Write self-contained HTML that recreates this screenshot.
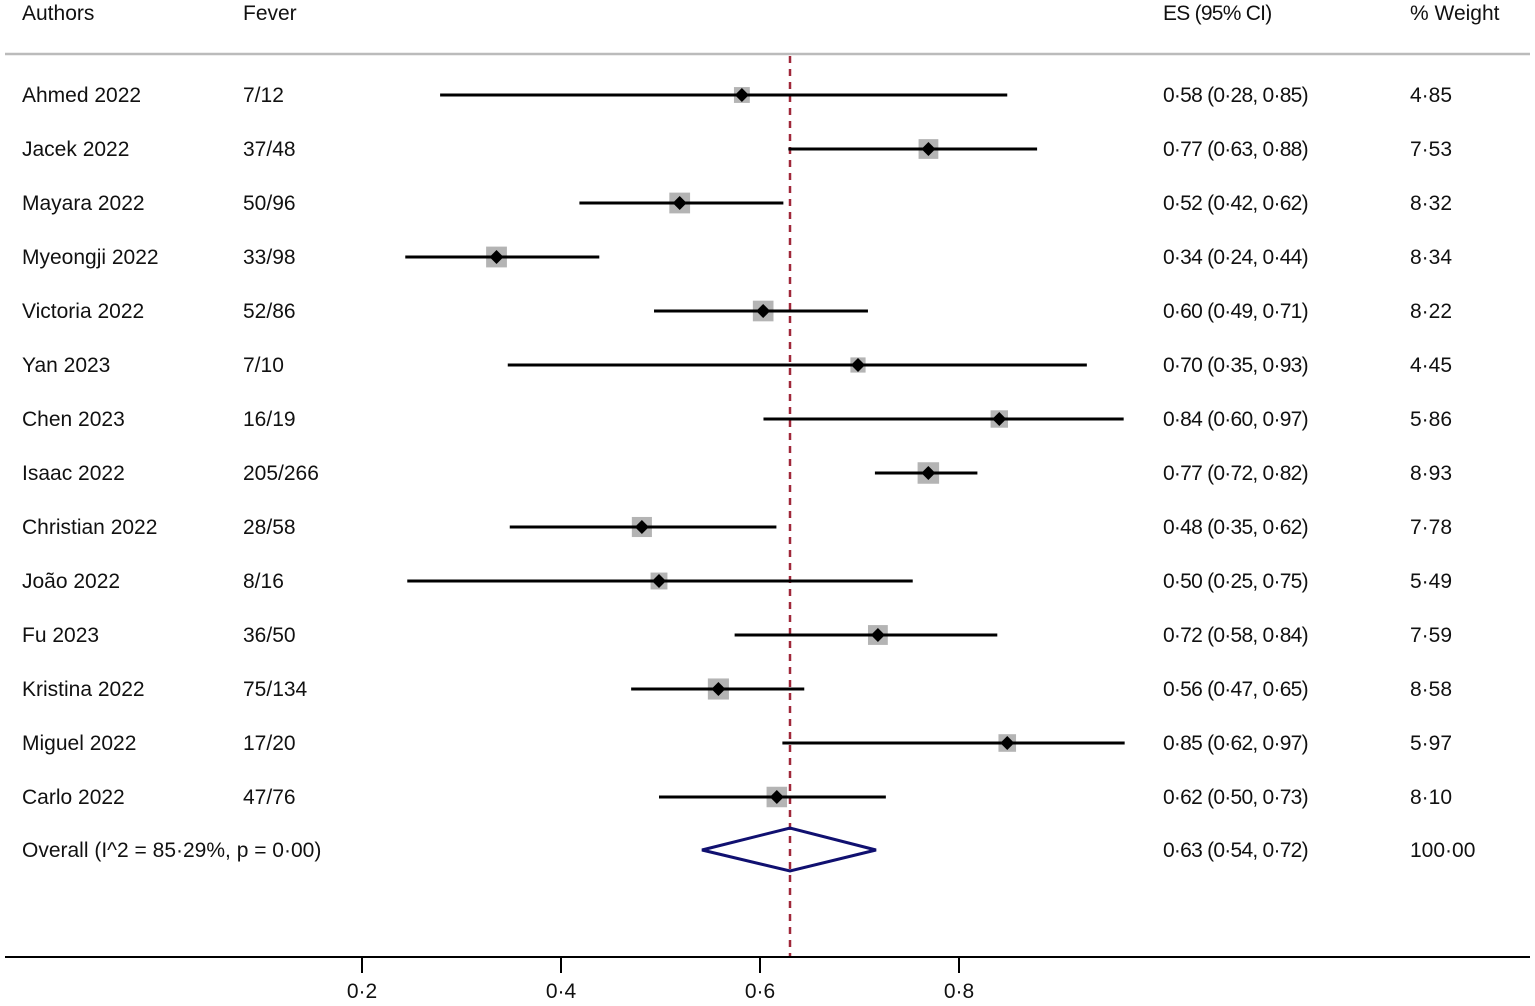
<!DOCTYPE html>
<html><head><meta charset="utf-8"><style>
body{margin:0;background:#fff}
svg text{font-family:"Liberation Sans",sans-serif;font-size:21px;fill:#111}
svg text.ci{letter-spacing:-0.75px}
</style></head><body>
<svg width="1535" height="1001" viewBox="0 0 1535 1001" xmlns="http://www.w3.org/2000/svg">
<text x="22" y="20">Authors</text>
<text x="243" y="20">Fever</text>
<text x="1163" y="20" class="ci">ES (95% CI)</text>
<text x="1410" y="20">% Weight</text>
<line x1="5" y1="54" x2="1530" y2="54" stroke="#bbb" stroke-width="2.5"/>
<line x1="790" y1="56" x2="790" y2="957" stroke="#a0283a" stroke-width="2.5" stroke-dasharray="7,6"/>
<g id="rows" stroke="#000" stroke-width="3"></g>
<polygon points="702,850 790,828 876,850 790,871" fill="none" stroke="#101070" stroke-width="3"/>
<line x1="5" y1="957" x2="1530" y2="957" stroke="#000" stroke-width="2"/>
<g stroke="#000" stroke-width="2">
<line x1="362" y1="957" x2="362" y2="973"/><line x1="561" y1="957" x2="561" y2="973"/>
<line x1="760" y1="957" x2="760" y2="973"/><line x1="959" y1="957" x2="959" y2="973"/>
</g>
<g text-anchor="middle"><text x="362" y="998">0·2</text><text x="561" y="998">0·4</text><text x="760" y="998">0·6</text><text x="959" y="998">0·8</text></g>
<text x="22" y="857">Overall  (I^2 = 85·29%, p = 0·00)</text>
<text x="1163" y="857" class="ci">0·63 (0·54, 0·72)</text>
<text x="1410" y="857">100·00</text>
<g id="labels"></g>
</svg>
<script>
var d=[["Ahmed 2022","7/12",.5833,.28,.85,"0·58 (0·28, 0·85)","4·85",4.85],
["Jacek 2022","37/48",.7708,.63,.88,"0·77 (0·63, 0·88)","7·53",7.53],
["Mayara 2022","50/96",.5208,.42,.625,"0·52 (0·42, 0·62)","8·32",8.32],
["Myeongji 2022","33/98",.3367,.245,.44,"0·34 (0·24, 0·44)","8·34",8.34],
["Victoria 2022","52/86",.6047,.495,.71,"0·60 (0·49, 0·71)","8·22",8.22],
["Yan 2023","7/10",.7,.348,.93,"0·70 (0·35, 0·93)","4·45",4.45],
["Chen 2023","16/19",.842,.605,.967,"0·84 (0·60, 0·97)","5·86",5.86],
["Isaac 2022","205/266",.7707,.717,.82,"0·77 (0·72, 0·82)","8·93",8.93],
["Christian 2022","28/58",.4828,.35,.618,"0·48 (0·35, 0·62)","7·78",7.78],
["João 2022","8/16",.5,.247,.755,"0·50 (0·25, 0·75)","5·49",5.49],
["Fu 2023","36/50",.72,.576,.84,"0·72 (0·58, 0·84)","7·59",7.59],
["Kristina 2022","75/134",.5597,.472,.646,"0·56 (0·47, 0·65)","8·58",8.58],
["Miguel 2022","17/20",.85,.624,.968,"0·85 (0·62, 0·97)","5·97",5.97],
["Carlo 2022","47/76",.6184,.50,.728,"0·62 (0·50, 0·73)","8·10",8.10]];
var X=v=>161.5+995*v,ns="http://www.w3.org/2000/svg",R=document.getElementById("rows"),L=document.getElementById("labels");
function el(t,a,p){var e=document.createElementNS(ns,t);for(var k in a)e.setAttribute(k,a[k]);p.appendChild(e);return e}
d.forEach((r,i)=>{var y=95+54*i,s=7.2*Math.sqrt(r[7]),x=X(r[2]);
el("rect",{x:x-s/2,y:y-s/2,width:s,height:s,fill:"#b4b4b4",stroke:"none"},R);
el("line",{x1:X(r[3]),y1:y,x2:X(r[4]),y2:y},R);
el("polygon",{points:(x-7)+","+y+" "+x+","+(y-7)+" "+(x+7)+","+y+" "+x+","+(y+7),fill:"#000",stroke:"none"},R);
[[22,r[0]],[243,r[1]],[1163,r[5]],[1410,r[6]]].forEach((t,j)=>{var e=el("text",{x:t[0],y:y+7},L);if(j==2)e.setAttribute("class","ci");e.textContent=t[1]});});
</script>
</body></html>
